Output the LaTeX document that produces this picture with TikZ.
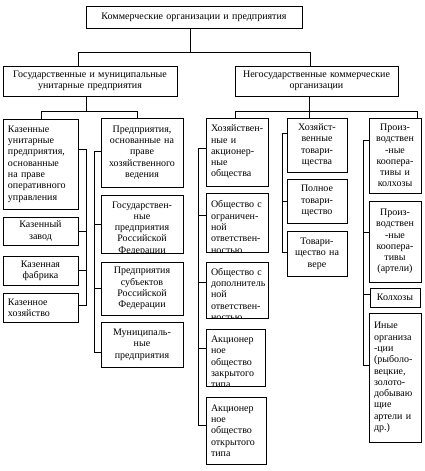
\documentclass[tikz,border=0pt]{standalone}
\usepackage{fontspec}
\setmainfont{Liberation Serif}
\newcommand\fs{\fontsize{10}{11.3}\selectfont\exhyphenpenalty=10000 \hyphenpenalty=10000 }
\tikzset{
  box/.style={draw, line width=0.8pt, inner xsep=5pt, inner ysep=1pt, font=\fs},
  conn/.style={line width=0.6pt},
}
\newcommand\bx[7]{%
  \pgfmathsetmacro\bw{#4-#2}\pgfmathsetmacro\bh{#5-#3}\pgfmathsetmacro\tw{#4-#2-10}%
  \node[box, minimum width=\bw pt, minimum height=\bh pt, text width=\tw pt, align=#6]
    (#1) at ({(#2+#4)/2},{(#3+#5)/2}) {#7};}
\newcommand\bxc[7]{%
  \pgfmathsetmacro\bw{#4-#2}\pgfmathsetmacro\bh{#5-#3}\pgfmathsetmacro\tw{#4-#2-10}%
  \node[box, minimum width=\bw pt, minimum height=\bh pt,
    path picture={\node[draw=none, anchor=north, inner sep=0pt, text width=\tw pt, align=#6, font=\fs]
      (#1t) at ([yshift=-4pt]path picture bounding box.north) {#7};}]
    (#1) at ({(#2+#4)/2},{(#3+#5)/2}) {};}
\begin{document}
\begin{tikzpicture}[x=1pt,y=-1pt]
\useasboundingbox (0,0) rectangle (425,471);
\fill[white] (0,0) rectangle (425,471);
% level 1, 2
\bx{T}{86}{6}{302}{28}{center}{Коммерческие организации и предприятия}
\bx{La}{3}{66}{177}{96}{center}{Государственные и муниципальные\\унитарные предприятия}
\bx{Lb}{235}{66}{398}{96}{center}{Негосударственные коммерческие\\организации}
% column 1
\bx{a1}{3}{119}{78}{209}{left}{Казенные\\унитарные\\предприятия,\\основанные\\на праве\\оперативного\\управления}
\bx{a2}{3}{217}{78}{245}{center}{Казенный\\завод}
\bx{a3}{3}{256}{78}{285}{center}{Казенная\\фабрика}
\bx{a4}{3}{293}{78}{322}{left}{Казенное\\хозяйство}
% column 2
\bx{b1}{101}{118}{183}{187}{center}{Предприятия,\\основанные на\\праве\\хозяйственного\\ведения}
\bxc{b2}{101}{195}{183}{253}{center}{Государствен-\\ные\\предприятия\\Российской\\Федерации}
\bx{b3}{101}{262}{183}{315}{center}{Предприятия\\субъектов\\Российской\\Федерации}
\bx{b4}{101}{322}{183}{367}{center}{Муниципаль-\\ные\\предприятия}
% column 3
\bx{c1}{206}{118}{268}{186}{left}{Хозяйствен-\\ные и\\акционер-\\ные\\общества}
\bxc{c2}{206}{193}{268}{252}{left}{Общество с\\ограничен-\\ной\\ответствен-\\ностью}
\bxc{c3}{206}{262}{268}{318}{left}{Общество с\\дополнитель\\ной\\ответствен-\\ностью}
\bxc{c4}{206}{329}{265}{386}{left}{Акционер\\ное\\общество\\закрытого\\типа}
\bx{c5}{206}{397}{266}{464}{left}{Акционер\\ное\\общество\\открытого\\типа}
% column 4
\bx{d1}{287}{118}{347}{172}{center}{Хозяйст-\\венные\\товари-\\щества}
\bx{d2}{287}{179}{347}{223}{center}{Полное\\товари-\\щество}
\bx{d3}{287}{231}{347}{276}{center}{Товари-\\щество на\\вере}
% column 5
\bx{e1}{369}{118}{421}{193}{center}{Произ-\\водствен\\-ные\\коопера-\\тивы и\\колхозы}
\bx{e2}{369}{201}{421}{282}{center}{Произ-\\водствен\\-ные\\коопера-\\тивы\\(артели)}
\bx{e3}{370}{288}{420}{307}{center}{Колхозы}
\bx{e4}{369}{313}{421}{442}{left}{Иные\\организа\\-ции\\(рыболо-\\вецкие,\\золото-\\добываю\\щие\\артели и\\др.)}
% bus coordinates
\coordinate (h1) at (190,52);
\coordinate (h1l) at (78,52);
\coordinate (h1r) at (310,52);
\coordinate (h2) at (86,111);
\coordinate (h2l) at (41,111);
\coordinate (h2r) at (137,111);
\coordinate (h3) at (309,111);
\coordinate (h3l) at (235,111);
\coordinate (h3r) at (417,111);
% top connectors
\draw[conn] (T.south -| h1) -- (h1);
\draw[conn] (La.north -| h1l) -- (h1l) -- (h1r) -- (Lb.north -| h1r);
\draw[conn] (La.south -| h2) -- (h2);
\draw[conn] (a1.north -| h2l) -- (h2l) -- (h2r) -- (b1.north -| h2r);
\draw[conn] (Lb.south -| h3) -- (d1.north -| h3);
\draw[conn] (c1.north -| h3l) -- (h3l) -- (h3r) -- (e1.north -| h3r);
% column 1 bus (right side)
\coordinate (v1t) at (86,149); \coordinate (v1b) at (86,305);
\draw[conn] (a1.east |- v1t) -- (v1t) -- (v1b) -- (a4.east |- v1b);
\draw[conn] (a2.east) -- (a2.east -| v1t);
\draw[conn] (a3.east) -- (a3.east -| v1t);
% column 2 bus (left side)
\coordinate (v2t) at (94,151); \coordinate (v2b) at (94,352);
\draw[conn] (b1.west |- v2t) -- (v2t) -- (v2b) -- (b4.west |- v2b);
\draw[conn] (b2.west) -- (b2.west -| v2t);
\draw[conn] (b3.west) -- (b3.west -| v2t);
% column 3 bus
\coordinate (v3t) at (198,148); \coordinate (v3b) at (198,425);
\draw[conn] (c1.west |- v3t) -- (v3t) -- (v3b) -- (c5.west |- v3b);
\draw[conn] (c2.west |- 0,215) -- (v3t |- 0,215);
\draw[conn] (c3.west |- 0,282) -- (v3t |- 0,282);
\draw[conn] (c4.west |- 0,348) -- (v3t |- 0,348);
% column 4 bus
\coordinate (v4t) at (282,133); \coordinate (v4b) at (282,252);
\draw[conn] (d1.west |- v4t) -- (v4t) -- (v4b) -- (d3.west |- v4b);
\draw[conn] (d2.west) -- (d2.west -| v4t);
% column 5 bus
\coordinate (v5t) at (363,140); \coordinate (v5b) at (363,365);
\draw[conn] (e1.west |- v5t) -- (v5t) -- (v5b) -- (e4.west |- v5b);
\draw[conn] (e2.west |- 0,232) -- (v5t |- 0,232);
\draw[conn] (e3.west |- 0,294) -- (v5t |- 0,294);
\end{tikzpicture}
\end{document}
